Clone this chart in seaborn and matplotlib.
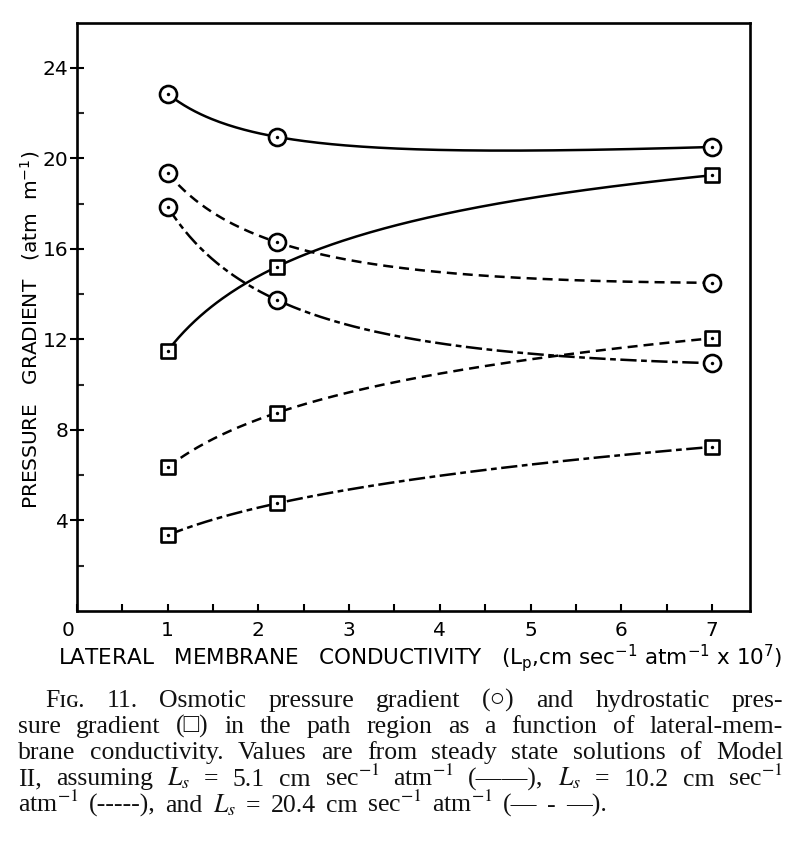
import numpy as np
import pandas as pd
import matplotlib
matplotlib.use("Agg")
import matplotlib.pyplot as plt
import matplotlib.transforms as mtransforms
import seaborn as sns

# lateral membrane conductivity (Lp, cm sec-1 atm-1 x 10^7)
lp = [1.0, 2.2, 7.0]

# osmotic pressure gradient (circles), atm m-1, for Ls = 5.1, 10.2, 20.4
osm_51 = [22.85, 20.95, 20.5]
osm_102 = [19.35, 16.3, 14.5]
osm_204 = [17.85, 13.75, 10.95]

# hydrostatic pressure gradient (squares)
hyd_51 = [11.5, 15.2, 19.25]
hyd_102 = [6.35, 8.75, 12.05]
hyd_204 = [3.35, 4.75, 7.25]

ls_labels = ["5.1", "10.2", "20.4"]

series = {
    ("osmotic", "5.1"): osm_51,
    ("osmotic", "10.2"): osm_102,
    ("osmotic", "20.4"): osm_204,
    ("hydrostatic", "5.1"): hyd_51,
    ("hydrostatic", "10.2"): hyd_102,
    ("hydrostatic", "20.4"): hyd_204,
}

rows = []
for (kind, ls), vals in series.items():
    for x, v in zip(lp, vals):
        rows.append({"lp": x, "value": v, "kind": kind, "Ls": ls, "series": kind + ls})
points = pd.DataFrame(rows)

# smooth connecting curves (like the hand drawn ones) through the three points
curve_rows = []
grid = np.linspace(lp[0], lp[-1], 200)
for (kind, ls), vals in series.items():
    coef = np.polyfit(np.log(lp), vals, 2)
    for x, v in zip(grid, np.polyval(coef, np.log(grid))):
        curve_rows.append({"lp": x, "value": v, "Ls": ls, "series": kind + ls})
curves = pd.DataFrame(curve_rows)

sns.set_theme(style="ticks")
plt.rcParams["font.family"] = ["DejaVu Sans"]

fig = plt.figure(figsize=(8, 8.43), dpi=100)
W, H = 800, 843
ax = fig.add_axes([77 / W, 1 - 611 / H, (750 - 77) / W, (611 - 22.5) / H])

dash_map = {"5.1": "", "10.2": (4, 2.4), "20.4": (6.5, 1.8, 2.3, 1.8)}
sns.lineplot(data=curves, x="lp", y="value", units="series", style="Ls",
             dashes=dash_map, estimator=None, sort=False, color="black",
             linewidth=1.8, legend=False, ax=ax, zorder=2)

osm = points[points["kind"] == "osmotic"]
hyd = points[points["kind"] == "hydrostatic"]
sns.scatterplot(data=osm, x="lp", y="value", marker="o", s=150, color="white",
                edgecolor="black", linewidth=1.9, legend=False, ax=ax, zorder=3)
sns.scatterplot(data=hyd, x="lp", y="value", marker="s", s=112, color="white",
                edgecolor="black", linewidth=1.9, legend=False, ax=ax, zorder=3)
sns.scatterplot(data=points, x="lp", y="value", marker="o", s=6, color="black",
                linewidth=0, legend=False, ax=ax, zorder=4)

ax.set_xlim(0, 7.42)
ax.set_ylim(0, 26)
ax.set_xticks(range(8))
ax.set_xticks(np.arange(0.5, 7.01, 0.5), minor=True)
ax.set_yticks(range(4, 25, 4))
ax.set_yticks(range(2, 25, 4), minor=True)
ax.tick_params(axis="x", which="both", direction="in", length=5, width=1.5,
               pad=7, labelsize=14.5, colors="black")
ax.tick_params(axis="y", which="major", direction="inout", length=10, width=1.5,
               pad=1, labelsize=14.5, colors="black")
ax.tick_params(axis="y", which="minor", direction="in", length=5, width=1.5)
for sp in ax.spines.values():
    sp.set_linewidth(1.9)
    sp.set_color("black")
    sp.set_visible(True)

# the "0" sits a little left of the corner
t0 = ax.xaxis.get_major_ticks()[0].label1
t0.set_transform(t0.get_transform() +
                 mtransforms.ScaledTranslation(-0.09, 0, fig.dpi_scale_trans))

ax.set_xlabel(r"LATERAL   MEMBRANE   CONDUCTIVITY   (L$_{\mathrm{p}}$,cm sec$^{-1}$ atm$^{-1}$ x 10$^{7}$)",
              fontsize=15.5, color="black")
ax.xaxis.set_label_coords(0.51, -0.053)
ax.set_ylabel(r"PRESSURE   GRADIENT   (atm  m$^{-1}$)", fontsize=14.5, color="black")
ax.yaxis.set_label_coords(-0.052, 0.477)

# caption, justified line by line
cap_kw = dict(fontsize=18.5, family=["Liberation Serif", "DejaVu Serif"],
              math_fontfamily="stix", va="baseline", ha="left", color="#111111")
caption = [
    ("Fɪɢ. 11. Osmotic pressure gradient (○) and hydrostatic pres-", 45, 783),
    ("sure gradient (□) in the path region as a function of lateral-mem-", 18, 783),
    ("brane conductivity. Values are from steady state solutions of Model", 18, 783),
    (r"II, assuming $L_s$ = 5.1 cm sec$^{-1}$ atm$^{-1}$ (——), $L_s$ = 10.2 cm sec$^{-1}$", 18, 783),
    (r"atm$^{-1}$ (-----), and $L_s$ = 20.4 cm sec$^{-1}$ atm$^{-1}$ (— - —).", 18, 607),
]
baselines = [707, 733, 759, 785.5, 812]

renderer = fig.canvas.get_renderer()
for (line, x0, x1), yb in zip(caption, baselines):
    words = line.split(" ")
    objs = [fig.text(0, 1 - yb / H, w, **cap_kw) for w in words]
    widths = [o.get_window_extent(renderer).width for o in objs]
    gap = (x1 - x0 - sum(widths)) / (len(words) - 1)
    x = x0
    for o, w in zip(objs, widths):
        o.set_x(x / W)
        x += w + gap

fig.savefig("out.png", dpi=100)
